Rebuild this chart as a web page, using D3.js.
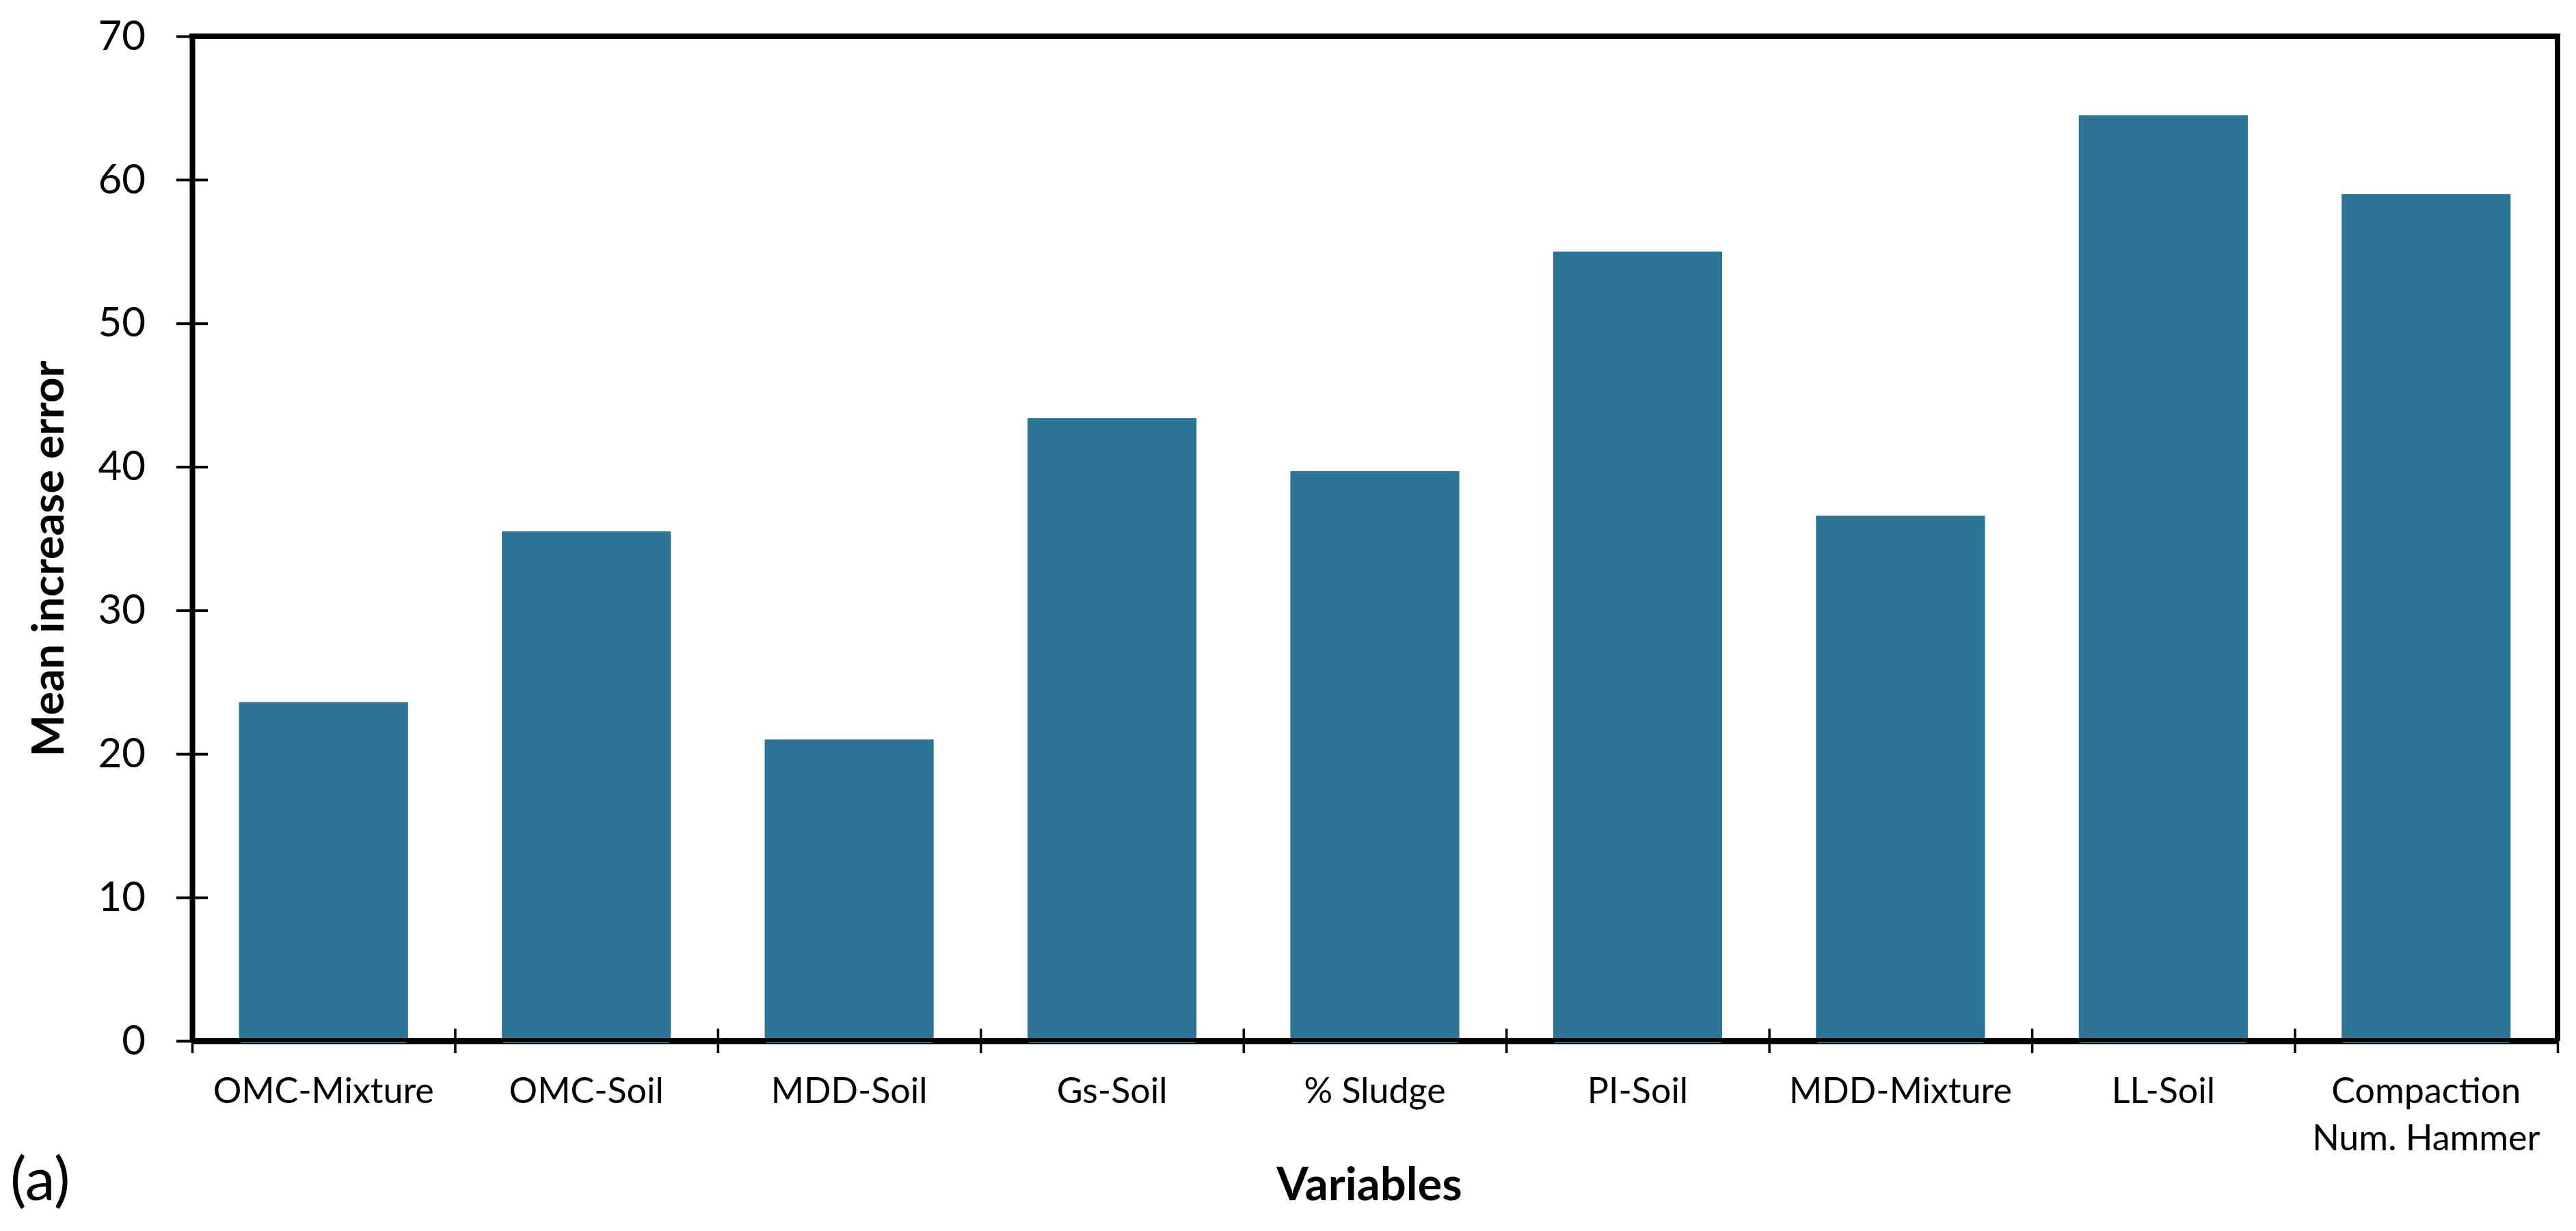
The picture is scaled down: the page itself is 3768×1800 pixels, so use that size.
<!DOCTYPE html>
<html>
<head>
<meta charset="utf-8">
<script src="https://cdn.jsdelivr.net/npm/d3@7"></script>
<style>
  body { margin: 0; background: #fff; }
  text { font-family: Lato, "Open Sans", sans-serif; fill: #000; }
</style>
</head>
<body>
<div id="container"></div>
<script>
// data
const categories = ["OMC-Mixture", "OMC-Soil", "MDD-Soil", "Gs-Soil", "% Sludge",
                    "PI-Soil", "MDD-Mixture", "LL-Soil", "Compaction\nNum. Hammer"];
const values = [23.6, 35.5, 21.0, 43.4, 39.7, 55.0, 36.6, 64.5, 59.0];
const yTicks = [0, 10, 20, 30, 40, 50, 60, 70];

let w = 3768;
let h = 1800;
let plotLeft = 281, plotRight = 3741, plotTop = 53, plotBottom = 1522;
let barColor = "#2c7596";

let viz = d3.select("#container")
  .append("svg")
    .attr("width", w)
    .attr("height", h)
    .style("background-color", "white");

let x = d3.scaleBand()
  .domain(categories)
  .range([plotLeft, plotRight])
  .paddingInner(0.357)
  .paddingOuter(0.1785);

let y = d3.scaleLinear()
  .domain([0, 70])
  .range([plotBottom, plotTop]);

// category boundaries for the x ticks
let edge = d3.scaleLinear()
  .domain([0, categories.length])
  .range([plotLeft, plotRight]);

// bars
viz.append("g")
  .selectAll("rect")
  .data(values)
  .join("rect")
    .attr("x", (d, i) => x(categories[i]))
    .attr("y", d => y(d))
    .attr("width", x.bandwidth())
    .attr("height", d => y(0) - y(d))
    .attr("fill", barColor);

// top and right frame
viz.append("line")
  .attr("x1", plotLeft - 4).attr("x2", plotRight + 4)
  .attr("y1", plotTop).attr("y2", plotTop)
  .attr("stroke", "#000").attr("stroke-width", 8);
viz.append("line")
  .attr("x1", plotRight).attr("x2", plotRight)
  .attr("y1", plotTop).attr("y2", plotBottom)
  .attr("stroke", "#000").attr("stroke-width", 8);

// x axis
let xAxis = viz.append("g")
  .attr("transform", `translate(0,${plotBottom})`)
  .call(d3.axisBottom(edge).tickValues(d3.range(categories.length + 1)).tickFormat("").tickSizeOuter(0));
xAxis.select(".domain").attr("stroke-width", 9);
xAxis.selectAll(".tick line").attr("y1", -18).attr("y2", 18).attr("stroke-width", 3.5);

// thin bar bottom lines over the axis
viz.append("g")
  .selectAll("line")
  .data(values)
  .join("line")
    .attr("x1", (d, i) => x(categories[i]) + 2)
    .attr("x2", (d, i) => x(categories[i]) + x.bandwidth() - 2)
    .attr("y1", plotBottom + 2.5)
    .attr("y2", plotBottom + 2.5)
    .attr("stroke", barColor)
    .attr("stroke-width", 1.5);

// y axis
let yAxis = viz.append("g")
  .attr("transform", `translate(${plotLeft},0)`)
  .call(d3.axisLeft(y).tickValues(yTicks).tickSizeOuter(0).tickSize(0).tickPadding(68));
yAxis.select(".domain").attr("stroke-width", 8);
yAxis.selectAll(".tick line").attr("x1", -23).attr("x2", 23).attr("stroke-width", 4);
yAxis.selectAll(".tick text")
  .style("font-family", "Lato, sans-serif")
  .style("font-size", "60px")
  .attr("fill", "#000");

// category labels
let catLabels = viz.append("g")
  .selectAll("text")
  .data(categories)
  .join("text")
    .attr("text-anchor", "middle")
    .style("font-size", "52px")
    .attr("transform", d => `translate(${x(d) + x.bandwidth() / 2},${plotBottom + 91})`);
catLabels.selectAll("tspan")
  .data(d => d.split("\n"))
  .join("tspan")
    .attr("x", 0)
    .attr("y", (d, i) => i * 69)
    .text(d => d);

// axis titles
viz.append("text")
  .attr("x", (plotLeft + plotRight) / 2 - 8)
  .attr("y", 1755)
  .attr("text-anchor", "middle")
  .style("font-size", "67px")
  .style("font-weight", "bold")
  .text("Variables");

viz.append("text")
  .attr("transform", "translate(93,817) rotate(-90)")
  .attr("text-anchor", "middle")
  .style("font-size", "65px")
  .style("font-weight", "bold")
  .text("Mean increase error");

viz.append("text")
  .attr("x", 15)
  .attr("y", 1755)
  .style("font-size", "88px")
  .text("(a)");
</script>
</body>
</html>
